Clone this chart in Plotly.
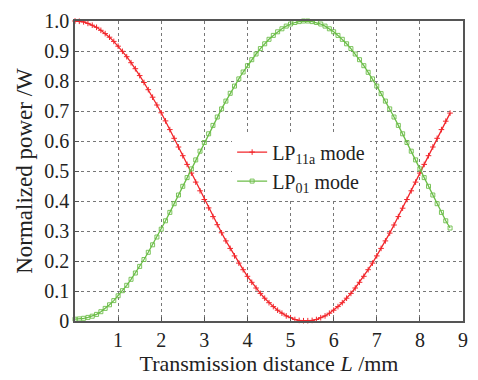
import plotly.graph_objects as go

distance_mm = [round(i * 0.1, 1) for i in range(88)]

lp11a_power = [
    1.000, 0.999, 0.997, 0.992, 0.986, 0.979, 0.969, 0.958, 0.946, 0.932,
    0.916, 0.899, 0.881, 0.861, 0.841, 0.818, 0.795, 0.771, 0.746, 0.720,
    0.694, 0.667, 0.638, 0.609, 0.580, 0.551, 0.522, 0.493, 0.463, 0.434,
    0.405, 0.377, 0.348, 0.321, 0.294, 0.267, 0.242, 0.217, 0.193, 0.171,
    0.149, 0.129, 0.110, 0.092, 0.076, 0.061, 0.048, 0.036, 0.026, 0.017,
    0.011, 0.005, 0.002, 0.001, 0.001, 0.002, 0.005, 0.011, 0.017, 0.026,
    0.036, 0.048, 0.061, 0.076, 0.092, 0.110, 0.129, 0.149, 0.171, 0.193,
    0.217, 0.242, 0.267, 0.293, 0.320, 0.348, 0.376, 0.405, 0.434, 0.463,
    0.493, 0.522, 0.551, 0.580, 0.609, 0.638, 0.666, 0.693,
]

lp01_power = [
    0.006, 0.007, 0.009, 0.012, 0.016, 0.022, 0.031, 0.042, 0.054, 0.068,
    0.084, 0.101, 0.119, 0.139, 0.160, 0.182, 0.205, 0.229, 0.254, 0.280,
    0.306, 0.334, 0.362, 0.391, 0.420, 0.449, 0.478, 0.507, 0.537, 0.566,
    0.595, 0.624, 0.652, 0.680, 0.707, 0.733, 0.759, 0.783, 0.807, 0.830,
    0.851, 0.871, 0.890, 0.908, 0.924, 0.939, 0.952, 0.964, 0.974, 0.983,
    0.990, 0.995, 0.998, 1.000, 1.000, 0.998, 0.995, 0.990, 0.983, 0.974,
    0.964, 0.952, 0.939, 0.924, 0.908, 0.890, 0.871, 0.851, 0.829, 0.807,
    0.783, 0.758, 0.733, 0.707, 0.680, 0.652, 0.624, 0.595, 0.566, 0.537,
    0.507, 0.478, 0.449, 0.420, 0.391, 0.362, 0.334, 0.310,
]

x_ticks = [1, 2, 3, 4, 5, 6, 7, 8, 9]
x_ticklabels = ["1", "2", "3", "4", "5", "6", "7", "8", "9"]
y_ticks = [0, 0.1, 0.2, 0.3, 0.4, 0.5, 0.6, 0.7, 0.8, 0.9, 1.0]
y_ticklabels = ["0", "0.1", "0.2", "0.3", "0.4", "0.5", "0.6", "0.7", "0.8", "0.9", "1.0"]

series_names = ["LP<sub>11a</sub> mode", "LP<sub>01</sub> mode"]

FONT = "Liberation Serif"
TXT = "#222222"
RED = "#f2262b"
GREEN = "#6cbd48"

fig = go.Figure()
fig.add_trace(go.Scatter(
    x=distance_mm, y=lp11a_power, name=series_names[0], mode="lines+markers",
    line=dict(color=RED, width=1.3),
    marker=dict(symbol="cross-thin", size=4, line=dict(color=RED, width=1)),
    cliponaxis=False,
))
fig.add_trace(go.Scatter(
    x=distance_mm, y=lp01_power, name=series_names[1], mode="lines+markers",
    line=dict(color=GREEN, width=1.3),
    marker=dict(symbol="square-open", size=4, color=GREEN, line=dict(width=0.9)),
    cliponaxis=False,
))

axis_common = dict(
    showline=True, linecolor="#555555", linewidth=1.5, mirror=True,
    ticks="inside", ticklen=4, tickcolor="#555555",
    showgrid=True, gridcolor="#777777", griddash="3px,3px", gridwidth=1,
    zeroline=False,
    tickfont=dict(family=FONT, size=20, color=TXT),
)

fig.update_layout(
    width=478, height=380,
    margin=dict(l=75, r=10, t=13, b=58),
    paper_bgcolor="white", plot_bgcolor="white",
    font=dict(family=FONT, size=19, color=TXT),
    showlegend=True,
    legend=dict(
        x=0.405, y=0.628, xanchor="left", yanchor="top",
        bgcolor="white", borderwidth=0,
        font=dict(family=FONT, size=20, color=TXT),
        itemwidth=30, tracegroupgap=0,
    ),
    xaxis=dict(
        range=[0, 9], tickvals=x_ticks, ticktext=x_ticklabels,
        title=dict(text="Transmission distance <i>L</i> /mm", standoff=4,
                   font=dict(family=FONT, size=22, color=TXT)),
        **axis_common,
    ),
    yaxis=dict(
        range=[0, 1.0], tickvals=y_ticks, ticktext=y_ticklabels,
        title=dict(text="Normalized power /W", standoff=5,
                   font=dict(family=FONT, size=23, color=TXT)),
        **axis_common,
    ),
)

fig.write_html("out.html")
